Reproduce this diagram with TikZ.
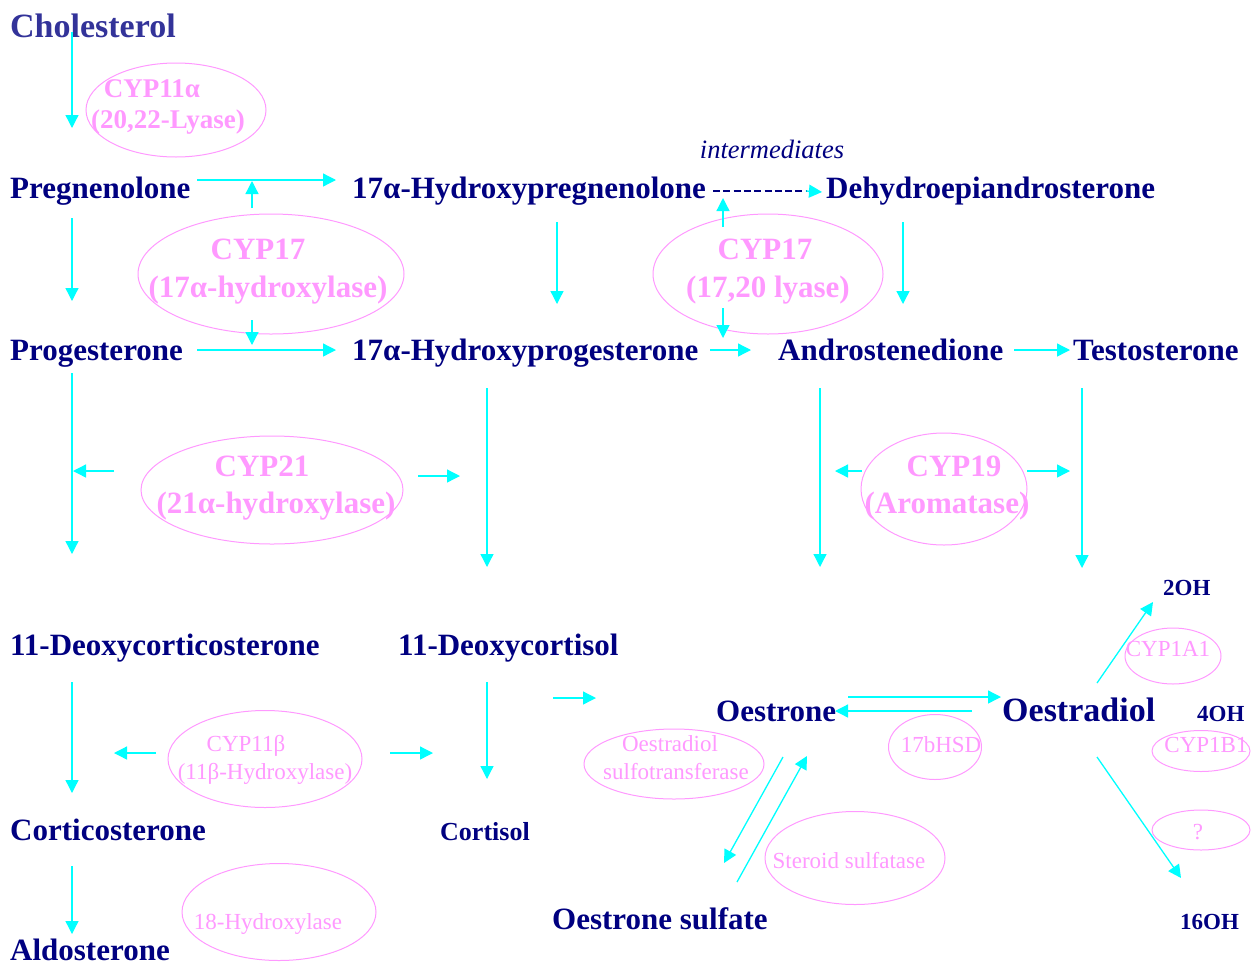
\documentclass[tikz,border=0pt]{standalone}
\usepackage{fontspec}
\setmainfont{Liberation Serif}
\usetikzlibrary{arrows.meta,shapes.geometric}
\definecolor{navy}{RGB}{0,0,128}
\definecolor{chol}{RGB}{51,51,153}
\definecolor{pinkE}{RGB}{255,153,255}
\definecolor{cyanA}{RGB}{0,255,255}
\begin{document}
\begin{tikzpicture}[x=1pt,y=-1pt,
  mol/.style={anchor=base west, inner sep=0, text=navy, font=\fontsize{31}{37}\selectfont\bfseries},
  molbig/.style={mol, font=\fontsize{34}{40}\selectfont\bfseries},
  molsm/.style={mol, font=\fontsize{26}{30}\selectfont\bfseries},
  oh/.style={mol, font=\fontsize{23}{27}\selectfont\bfseries},
  enz/.style={draw=pinkE, line width=1pt, ellipse, inner sep=0},
  etb/.style={anchor=base, inner sep=0, text=pinkE, font=\fontsize{31}{37}\selectfont\bfseries},
  etm/.style={anchor=base, inner sep=0, text=pinkE, font=\fontsize{27}{32}\selectfont\bfseries},
  etr/.style={anchor=base, inner sep=0, text=pinkE, font=\fontsize{23}{27}\selectfont},
  arr/.style={draw=cyanA, line width=1.3pt, -{Triangle[length=13pt,width=13pt]}},
  dash line/.style={draw=navy, line width=2.2pt, dash pattern=on 7pt off 3.3pt}
]
\useasboundingbox (0,0) rectangle (1252,967);

% ---------- molecules ----------
\node[molbig, text=chol] (chol) at (10,37) {Cholesterol};
\node[mol] (preg) at (10,198) {Pregnenolone};
\node[mol] (ohpreg) at (352,198) {17α-Hydroxypregnenolone};
\node[mol] (dhea) at (826,198) {Dehydroepiandrosterone};
\node[anchor=base, inner sep=0, text=navy, font=\fontsize{26.5}{30}\selectfont\itshape] (interm) at (772,158) {intermediates};
\node[mol] (prog) at (10,360) {Progesterone};
\node[mol] (ohprog) at (352,360) {17α-Hydroxyprogesterone};
\node[mol] (andro) at (778,360) {Androstenedione};
\node[mol] (testo) at (1073,360) {Testosterone};
\node[mol] (doc) at (10,655) {11-Deoxycorticosterone};
\node[mol] (dcort) at (398,655) {11-Deoxycortisol};
\node[mol] (oestrone) at (716,721) {Oestrone};
\node[molbig] (oestradiol) at (1002,721) {Oestradiol};
\node[oh] (oh2) at (1163,595) {2OH};
\node[oh] (oh4) at (1197,721) {4OH};
\node[oh] (oh16) at (1180,929) {16OH};
\node[mol] (cortico) at (10,840) {Corticosterone};
\node[molsm] (cortisol) at (440,840) {Cortisol};
\node[mol] (osulf) at (552,929) {Oestrone sulfate};
\node[mol] (aldo) at (10,960) {Aldosterone};

% ---------- enzymes ----------
\node[enz, minimum width=180pt, minimum height=94pt] (e11a) at (176,110) {};
\node[etm] at (152,97) {CYP11α};
\node[etm] at (168,128) {(20,22-Lyase)};

\node[enz, minimum width=266pt, minimum height=120pt] (e17a) at (271,274) {};
\node[etb] at (258,259) {CYP17};
\node[etb] at (268,297) {(17α-hydroxylase)};

\node[enz, minimum width=230pt, minimum height=120pt] (e17b) at (768,274) {};
\node[etb] at (765,259) {CYP17};
\node[etb] at (768,297) {(17,20 lyase)};

\node[enz, minimum width=262pt, minimum height=108pt] (e21) at (272,490) {};
\node[etb] at (262,476) {CYP21};
\node[etb] at (276,513) {(21α-hydroxylase)};

\node[enz, minimum width=166pt, minimum height=112pt] (e19) at (944,489) {};
\node[etb] at (954,476) {CYP19};
\node[etb] at (947,513) {(Aromatase)};

\node[enz, minimum width=194pt, minimum height=97pt] (e11b) at (265,759) {};
\node[etr] at (246,751) {CYP11β};
\node[etr] at (265,779) {(11β-Hydroxylase)};

\node[enz, minimum width=194pt, minimum height=97pt] (e18) at (279,912) {};
\node[etr] at (268,929) {18-Hydroxylase};

\node[enz, minimum width=180pt, minimum height=70pt] (esult) at (674,764) {};
\node[etr] at (670,751) {Oestradiol};
\node[etr] at (676,779) {sulfotransferase};

\node[enz, minimum width=93pt, minimum height=65pt] (ehsd) at (935,747) {};
\node[etr] at (941,752) {17bHSD};

\node[enz, minimum width=180pt, minimum height=93pt] (esulf) at (855,858) {};
\node[etr] at (849,868) {Steroid sulfatase};

\node[enz, minimum width=96pt, minimum height=56pt] (e1a1) at (1173,656) {};
\node[etr] at (1168,656) {CYP1A1};

\node[enz, minimum width=98pt, minimum height=41pt] (e1b1) at (1201,751) {};
\node[etr] at (1206,752) {CYP1B1};

\node[enz, minimum width=98pt, minimum height=40pt] (eq) at (1201,830) {};
\node[etr] at (1198,839) {?};

% ---------- arrow end points ----------
\coordinate (c1s) at (72,32);   \coordinate (c1e) at (72,128);
\coordinate (p1s) at (197,180); \coordinate (p1e) at (336,180);
\coordinate (u1s) at (252,208); \coordinate (u1e) at (252,181);
\coordinate (p2s) at (72,218);  \coordinate (p2e) at (72,301);
\coordinate (h1s) at (557,222); \coordinate (h1e) at (557,304);
\coordinate (d1s) at (713,191); \coordinate (d1m) at (806,191); \coordinate (d1e) at (822,192);
\coordinate (u2s) at (723,227); \coordinate (u2e) at (723,198);
\coordinate (dh1s) at (903,222); \coordinate (dh1e) at (903,304);
\coordinate (u3s) at (723,308); \coordinate (u3e) at (723,338);
\coordinate (p3s) at (197,350); \coordinate (p3e) at (336,350);
\coordinate (u4s) at (252,320); \coordinate (u4e) at (252,345);
\coordinate (h2s) at (710,350); \coordinate (h2e) at (751,350);
\coordinate (a1s) at (1014,350); \coordinate (a1e) at (1070,350);
\coordinate (pr1s) at (72,373); \coordinate (pr1e) at (72,554);
\coordinate (l1s) at (114,471); \coordinate (l1e) at (73,471);
\coordinate (r1s) at (418,476); \coordinate (r1e) at (460,476);
\coordinate (hp1s) at (487,388); \coordinate (hp1e) at (487,567);
\coordinate (an1s) at (820,388); \coordinate (an1e) at (820,567);
\coordinate (l2s) at (862,471); \coordinate (l2e) at (835,471);
\coordinate (r2s) at (1027,471); \coordinate (r2e) at (1070,471);
\coordinate (t1s) at (1082,388); \coordinate (t1e) at (1082,568);
\coordinate (dc1s) at (72,682); \coordinate (dc1e) at (72,793);
\coordinate (l3s) at (156,753); \coordinate (l3e) at (114,753);
\coordinate (r3s) at (390,753); \coordinate (r3e) at (433,753);
\coordinate (dx1s) at (487,682); \coordinate (dx1e) at (487,779);
\coordinate (r4s) at (553,698); \coordinate (r4e) at (596,698);
\coordinate (eo1s) at (848,697); \coordinate (eo1e) at (1001,697);
\coordinate (eo2s) at (972,711); \coordinate (eo2e) at (835,711);
\coordinate (s1s) at (783,757); \coordinate (s1e) at (724,863);
\coordinate (s2s) at (737,882); \coordinate (s2e) at (807,756);
\coordinate (o2s) at (1097,683); \coordinate (o2e) at (1153,602);
\coordinate (o16s) at (1097,757); \coordinate (o16e) at (1181,878);
\coordinate (cc1s) at (72,866); \coordinate (cc1e) at (72,934);

% ---------- arrows ----------
\draw[arr] (c1s) -- (c1e);
\draw[arr] (p1s) -- (p1e);
\draw[arr] (u1s) -- (u1e);
\draw[arr] (p2s) -- (p2e);
\draw[arr] (h1s) -- (h1e);
\draw[dash line] (d1s) -- (d1m);
\draw[arr] (d1m) -- (d1e);
\draw[arr] (u2s) -- (u2e);
\draw[arr] (dh1s) -- (dh1e);
\draw[arr] (u3s) -- (u3e);
\draw[arr] (p3s) -- (p3e);
\draw[arr] (u4s) -- (u4e);
\draw[arr] (h2s) -- (h2e);
\draw[arr] (a1s) -- (a1e);
\draw[arr] (pr1s) -- (pr1e);
\draw[arr] (l1s) -- (l1e);
\draw[arr] (r1s) -- (r1e);
\draw[arr] (hp1s) -- (hp1e);
\draw[arr] (an1s) -- (an1e);
\draw[arr] (l2s) -- (l2e);
\draw[arr] (r2s) -- (r2e);
\draw[arr] (t1s) -- (t1e);
\draw[arr] (dc1s) -- (dc1e);
\draw[arr] (l3s) -- (l3e);
\draw[arr] (r3s) -- (r3e);
\draw[arr] (dx1s) -- (dx1e);
\draw[arr] (r4s) -- (r4e);
\draw[arr] (eo1s) -- (eo1e);
\draw[arr] (eo2s) -- (eo2e);
\draw[arr] (s1s) -- (s1e);
\draw[arr] (s2s) -- (s2e);
\draw[arr] (o2s) -- (o2e);
\draw[arr] (o16s) -- (o16e);
\draw[arr] (cc1s) -- (cc1e);
\end{tikzpicture}
\end{document}
